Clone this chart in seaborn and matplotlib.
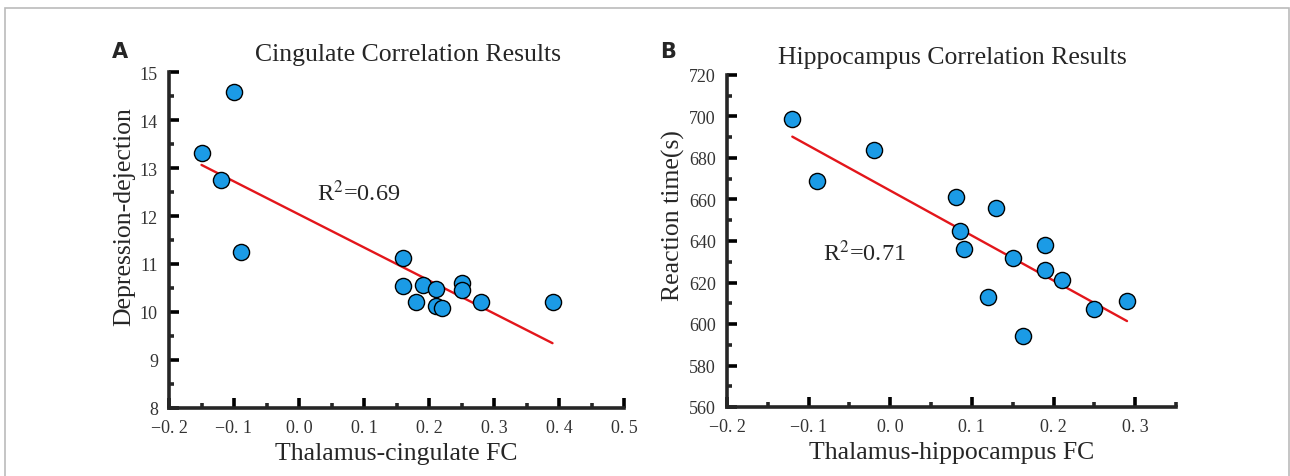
import numpy as np
import pandas as pd
import seaborn as sns
import matplotlib.pyplot as plt
from matplotlib.patches import Rectangle
from matplotlib.ticker import MultipleLocator, FuncFormatter

sns.set_style("ticks")
plt.rcParams['font.family'] = ['Liberation Serif', 'DejaVu Serif']
plt.rcParams['mathtext.fontset'] = 'stix'

# panel A: thalamus-cingulate FC vs depression-dejection
cing_fc = [-0.15, -0.10, -0.12, -0.09, 0.16, 0.16, 0.19, 0.18, 0.21, 0.21, 0.22, 0.25, 0.25, 0.28, 0.39]
depression = [13.31, 14.58, 12.74, 11.24, 11.12, 10.55, 10.57, 10.21, 10.48, 10.12, 10.08, 10.60, 10.46, 10.20, 10.20]

# panel B: thalamus-hippocampus FC vs reaction time
hipp_fc = [-0.12, -0.09, -0.02, 0.08, 0.085, 0.09, 0.13, 0.15, 0.12, 0.162, 0.19, 0.19, 0.21, 0.25, 0.29]
reaction = [699, 669, 684, 661, 645, 636, 656, 632, 613, 594, 638, 626, 621, 607, 611]

r2_a = "0.69"
r2_b = "0.71"

dot_color = "#1b9be6"
line_color = "#e3161b"

df_a = pd.DataFrame({"fc": cing_fc, "score": depression})
df_b = pd.DataFrame({"fc": hipp_fc, "score": reaction})

fig = plt.figure(figsize=(12.9, 4.77), dpi=100)
ax_a = fig.add_axes([169 / 1290, 1 - 409 / 477, 455 / 1290, 336 / 477])
ax_b = fig.add_axes([727 / 1290, 1 - 408 / 477, 449 / 1290, 332 / 477])


def fmt(v, pos):
    # the original font leaves a gap after the decimal point
    return f"{v:.1f}".replace("-", "\u2212").replace(".", ". ")


def draw(ax, df, xlim, ylim, ymaj, ymin, xlabel, ylabel, ylab_x, ylab_y):
    sns.regplot(data=df, x="fc", y="score", scatter=False, ci=None,
                color=line_color, line_kws={"linewidth": 1.7}, ax=ax)
    sns.scatterplot(data=df, x="fc", y="score", s=135, color=dot_color,
                    edgecolor="black", linewidth=1.0, zorder=3, ax=ax)
    ax.set_xlim(*xlim)
    ax.set_ylim(*ylim)
    ax.xaxis.set_major_locator(MultipleLocator(0.1))
    ax.xaxis.set_minor_locator(MultipleLocator(0.05))
    ax.yaxis.set_major_locator(MultipleLocator(ymaj))
    ax.yaxis.set_minor_locator(MultipleLocator(ymin))
    ax.xaxis.set_major_formatter(FuncFormatter(fmt))
    sns.despine(ax=ax)
    for sp in ["left", "bottom"]:
        ax.spines[sp].set_linewidth(2.6)
    ax.tick_params(which="major", direction="in", length=7, width=2.6,
                   labelsize=13, colors="black", labelcolor="#333333", pad=8)
    ax.tick_params(which="minor", direction="in", length=3.5, width=2.6)
    ax.set_xlabel(xlabel, fontsize=18.5, labelpad=4)
    ax.set_ylabel(ylabel, fontsize=18.5)
    ax.yaxis.set_label_coords(ylab_x, ylab_y)
    ax.patch.set_alpha(0)


draw(ax_a, df_a, (-0.2, 0.5), (8, 15), 1, 0.5,
     "Thalamus-cingulate FC", "Depression-dejection", -0.075, 0.574)
draw(ax_b, df_b, (-0.2, 0.35), (560, 720), 20, 10,
     "Thalamus-hippocampus FC", "Reaction time(s)", -0.094, 0.58)

ax_a.text(0.028, 12.5, r"R$^2$=" + r2_a, fontsize=17.5, va="center", ha="left")
ax_b.text(-0.0825, 634.5, r"R$^2$=" + r2_b, fontsize=17.5, va="center", ha="left")

fig.text(408 / 1290, 1 - 55 / 477, "Cingulate Correlation Results",
         fontsize=18.5, ha="center", va="center")
fig.text(952 / 1290, 1 - 58 / 477, "Hippocampus Correlation Results",
         fontsize=18.5, ha="center", va="center")

fig.text(120 / 1290, 1 - 52 / 477, "A", fontsize=15, fontweight="bold",
         family="DejaVu Sans", ha="center", va="center")
fig.text(668 / 1290, 1 - 52 / 477, "B", fontsize=15, fontweight="bold",
         family="DejaVu Sans", ha="center", va="center")

# outer frame (bottom edge runs off the picture)
fig.patches.append(Rectangle((5 / 1290, -0.1), (1289 - 5) / 1290, 1.1 - 9 / 477,
                             transform=fig.transFigure, fill=False,
                             edgecolor="#bbbbbb", linewidth=1.2))

fig.savefig("out.png", dpi=100)
